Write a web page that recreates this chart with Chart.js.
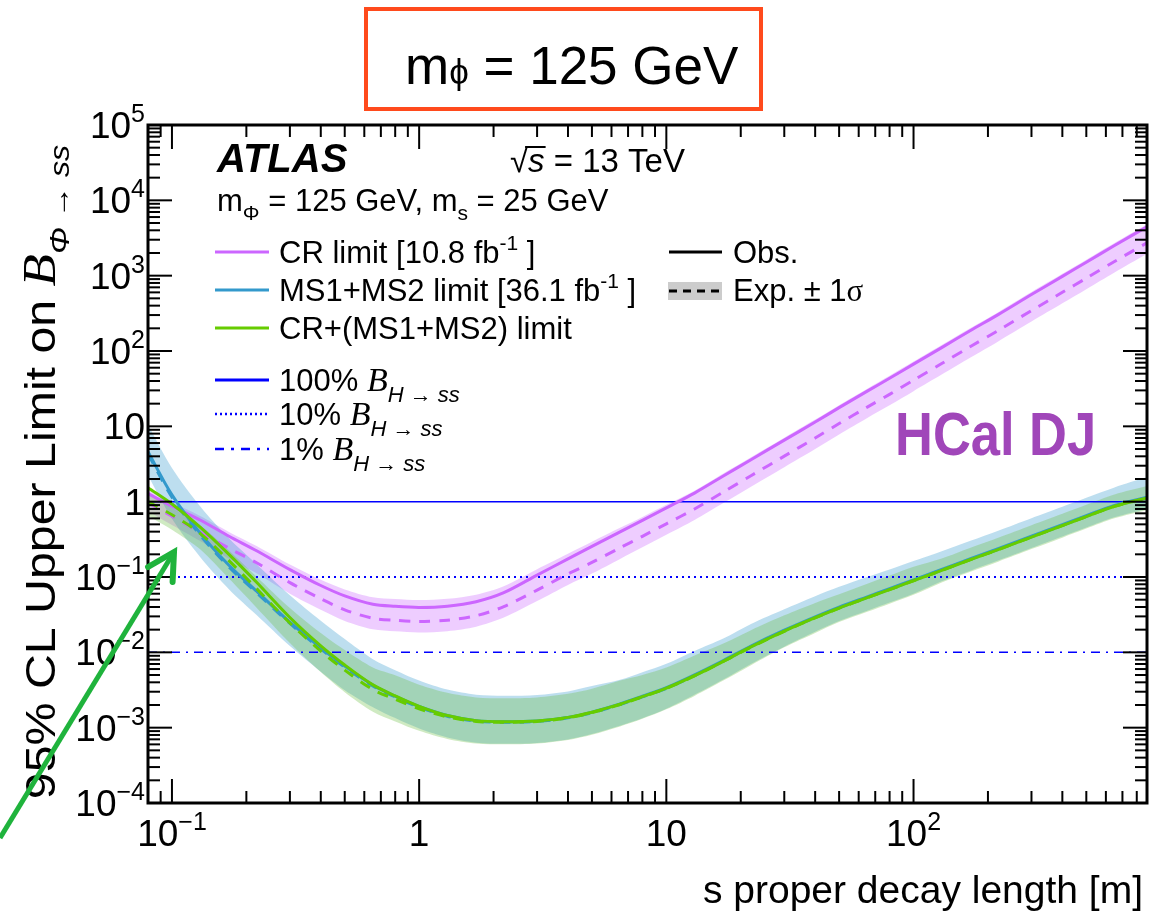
<!DOCTYPE html>
<html>
<head>
<meta charset="utf-8">
<script src="https://cdn.jsdelivr.net/npm/chart.js@4.4.1/dist/chart.umd.min.js"></script>
<style>
html,body{margin:0;padding:0;background:#fff;}
#wrap{width:1151px;height:917px;}
</style>
</head>
<body>
<div id="wrap"><canvas id="c" width="1151" height="917"></canvas></div>
<script>
// Zerfallslaenge [m]
const xWerte = [0.08, 0.1, 0.13, 0.17, 0.22, 0.3, 0.4, 0.5, 0.65, 0.8, 1, 1.3, 1.7, 2.2, 3, 4, 5, 6.5, 8, 10, 13, 17, 22, 30, 40, 50, 65, 80, 100, 130, 170, 220, 300, 400, 500, 650, 880];

// CR limit
const crObs = [1.28, 0.871, 0.571, 0.348, 0.223, 0.1255, 0.0771, 0.0561, 0.0434, 0.0408, 0.0395, 0.0410, 0.0470, 0.0619, 0.106, 0.174, 0.255, 0.397, 0.565, 0.828, 1.30, 2.19, 3.61, 6.56, 11.4, 17.7, 29.3, 43.4, 66.9, 111, 187, 304, 561, 979, 1510, 2512, 4446];
const crExp = [0.97, 0.641, 0.396, 0.241, 0.1545, 0.0843, 0.0514, 0.0366, 0.0283, 0.0266, 0.0257, 0.0267, 0.0306, 0.0404, 0.067, 0.110, 0.156, 0.244, 0.347, 0.508, 0.798, 1.34, 2.21, 4.02, 6.99, 10.9, 18.0, 26.6, 41.0, 68.1, 115, 187, 344, 601, 926, 1541, 2728];
const crHoch = [1.43, 0.98, 0.645, 0.397, 0.257, 0.146, 0.0918, 0.0685, 0.0538, 0.051, 0.0494, 0.0513, 0.0583, 0.0755, 0.127, 0.203, 0.293, 0.449, 0.627, 0.911, 1.40, 2.37, 3.90, 7.08, 12.3, 19.1, 31.6, 46.9, 72.3, 120, 202, 328, 606, 1057, 1631, 2713, 4802];
const crTief = [0.746, 0.49, 0.30, 0.175, 0.112, 0.060, 0.0367, 0.0261, 0.0202, 0.019, 0.0184, 0.0191, 0.0219, 0.0289, 0.0479, 0.0786, 0.111, 0.174, 0.248, 0.363, 0.570, 0.957, 1.58, 2.87, 4.99, 7.79, 12.9, 19.0, 29.3, 48.6, 82, 134, 246, 429, 661, 1101, 1949];

// MS1+MS2 limit
const msObs = [4.61, 1.23, 0.382, 0.143, 0.0648, 0.0251, 0.0115, 0.00656, 0.00367, 0.00262, 0.00191, 0.00145, 0.00124, 0.0012, 0.00123, 0.00137, 0.00161, 0.00207, 0.00261, 0.00339, 0.00502, 0.00778, 0.01213, 0.01965, 0.0296, 0.0398, 0.0546, 0.0700, 0.0918, 0.126, 0.175, 0.238, 0.349, 0.495, 0.652, 0.893, 1.15];
const msExp = [4.3, 1.15, 0.36, 0.136, 0.062, 0.0242, 0.0111, 0.00635, 0.00357, 0.00256, 0.00187, 0.00142, 0.00122, 0.00118, 0.00121, 0.00135, 0.00158, 0.00203, 0.00256, 0.00332, 0.00492, 0.00762, 0.0119, 0.0193, 0.029, 0.039, 0.0535, 0.0686, 0.090, 0.1235, 0.1715, 0.233, 0.342, 0.485, 0.639, 0.875, 1.13];
const msHoch = [10.5, 2.80, 0.871, 0.326, 0.148, 0.0572, 0.0262, 0.0150, 0.00811, 0.00579, 0.00422, 0.0032, 0.00274, 0.00265, 0.00272, 0.00303, 0.00356, 0.00431, 0.00543, 0.00705, 0.01044, 0.01525, 0.0238, 0.0373, 0.0556, 0.074, 0.0999, 0.126, 0.163, 0.2205, 0.303, 0.412, 0.604, 0.856, 1.128, 1.545, 2.12];
const msTief = [2.22, 0.591, 0.184, 0.0688, 0.0312, 0.0121, 0.00553, 0.00315, 0.00187, 0.00134, 0.000974, 0.00074, 0.000633, 0.000612, 0.000628, 0.000699, 0.000821, 0.00106, 0.00133, 0.00178, 0.00273, 0.00435, 0.00701, 0.0119, 0.0187, 0.026, 0.0357, 0.0458, 0.06, 0.0875, 0.1215, 0.165, 0.242, 0.344, 0.453, 0.62, 0.80];

// CR+(MS1+MS2) limit
const kombObs = [1.53, 0.93, 0.46, 0.20, 0.085, 0.0290, 0.0122, 0.0068, 0.0037, 0.00264, 0.00192, 0.00145, 0.00124, 0.0012, 0.00123, 0.00137, 0.0016, 0.00205, 0.00258, 0.00334, 0.00490, 0.00760, 0.0118, 0.0191, 0.0288, 0.0387, 0.0531, 0.0681, 0.0893, 0.1225, 0.170, 0.231, 0.339, 0.481, 0.634, 0.868, 1.12];
const kombExp = [1.0, 0.67, 0.38, 0.165, 0.070, 0.0245, 0.0104, 0.0058, 0.0032, 0.00238, 0.00178, 0.00139, 0.00121, 0.00118, 0.00121, 0.00135, 0.00158, 0.00203, 0.00256, 0.00332, 0.00487, 0.00755, 0.0117, 0.0190, 0.0287, 0.0386, 0.053, 0.068, 0.0892, 0.1223, 0.1698, 0.2307, 0.3386, 0.4805, 0.6332, 0.867, 1.12];
const kombHoch = [1.28, 0.83, 0.485, 0.224, 0.101, 0.0388, 0.0180, 0.0107, 0.00628, 0.00496, 0.00371, 0.0029, 0.00252, 0.00246, 0.00252, 0.00281, 0.00329, 0.00423, 0.00502, 0.00631, 0.00911, 0.0131, 0.0197, 0.031, 0.0453, 0.0592, 0.0813, 0.1043, 0.1368, 0.176, 0.2445, 0.332, 0.4876, 0.692, 0.912, 1.248, 1.613];
const kombTief = [0.652, 0.424, 0.233, 0.0953, 0.0392, 0.0133, 0.00547, 0.00296, 0.00163, 0.00121, 0.000908, 0.000709, 0.000617, 0.000602, 0.000617, 0.000688, 0.000806, 0.00104, 0.00131, 0.00175, 0.00264, 0.00422, 0.00676, 0.01166, 0.0181, 0.0252, 0.0345, 0.0443, 0.0581, 0.0848, 0.1177, 0.1599, 0.2347, 0.333, 0.4388, 0.601, 0.776];

// B(H->ss) Referenzlinien
const bLinien = [1, 0.1, 0.01];

// Achsen
const xMin = 0.08, xMax = 880;
const yMin = 1e-4, yMax = 1e5;
const xBeschriftung = [[0.1, '10', '\u22121'], [1, '1', ''], [10, '10', ''], [100, '10', '2']];
const yBeschriftung = [[1e5, '10', '5'], [1e4, '10', '4'], [1e3, '10', '3'], [1e2, '10', '2'], [10, '10', ''], [1, '1', ''], [0.1, '10', '\u22121'], [0.01, '10', '\u22122'], [1e-3, '10', '\u22123'], [1e-4, '10', '\u22124']];

const LS = '"Liberation Sans", Arial, sans-serif';
const SERIF = '"Liberation Serif", "Times New Roman", serif';

const VIOLETT = '#cc66ff';
const BLAU = '#3399cc';
const GRUEN = '#66cc00';

function punkte(werte) {
    return xWerte.map((x, i) => ({x: x, y: werte[i]}));
}

function linie(werte, farbe, strich, reihenfolge) {
    return {
        data: punkte(werte),
        borderColor: farbe,
        borderWidth: 3,
        borderDash: strich,
        fill: false,
        order: reihenfolge,
        tension: 0.3,
    };
}

function band(werte, farbe, ziel, reihenfolge) {
    return {
        data: punkte(werte),
        borderWidth: 0,
        borderColor: 'rgba(0,0,0,0)',
        backgroundColor: farbe,
        fill: ziel,
        order: reihenfolge,
        tension: 0.3,
    };
}

function horizontal(y, strich, breite, reihenfolge) {
    return {
        data: [{x: xMin, y: y}, {x: xMax, y: y}],
        borderColor: '#0000ff',
        borderWidth: breite,
        borderDash: strich,
        fill: false,
        order: reihenfolge,
    };
}

const datensaetze = [
    band(crHoch, 'rgba(204,102,255,0.33)', '+1', 20),
    band(crTief, 'rgba(0,0,0,0)', false, 20),
    band(msHoch, 'rgba(51,153,204,0.32)', '+1', 19),
    band(msTief, 'rgba(0,0,0,0)', false, 19),
    band(kombHoch, 'rgba(110,190,70,0.33)', '+1', 18),
    band(kombTief, 'rgba(0,0,0,0)', false, 18),
    horizontal(bLinien[0], [], 1.5, 10),
    horizontal(bLinien[1], [2, 4], 2, 10),
    horizontal(bLinien[2], [9, 6, 2, 6], 1.5, 10),
    linie(crExp, VIOLETT, [11, 9], 6),
    linie(crObs, VIOLETT, [], 5),
    linie(msExp, BLAU, [11, 9], 4),
    linie(msObs, BLAU, [], 3),
    linie(kombExp, GRUEN, [11, 9], 2),
    linie(kombObs, GRUEN, [], 1),
];

// Text mit wechselnden Schriften
function richBreite(ctx, teile) {
    let w = 0;
    for (const t of teile) {
        ctx.font = t.f;
        w += ctx.measureText(t.t).width;
    }
    return w;
}

function richText(ctx, x, y, teile, ausrichtung) {
    const w = richBreite(ctx, teile);
    if (ausrichtung === 'right') x -= w;
    else if (ausrichtung === 'center') x -= w / 2;
    for (const t of teile) {
        ctx.font = t.f;
        ctx.fillStyle = t.c || '#000';
        ctx.fillText(t.t, x, y + (t.dy || 0));
        x += ctx.measureText(t.t).width;
    }
}

function strecke(ctx, x1, y1, x2, y2, farbe, breite, strich) {
    ctx.save();
    ctx.strokeStyle = farbe;
    ctx.lineWidth = breite;
    ctx.setLineDash(strich || []);
    ctx.beginPath();
    ctx.moveTo(x1, y1);
    ctx.lineTo(x2, y2);
    ctx.stroke();
    ctx.restore();
}

const dekoPlugin = {
    id: 'deko',
    afterDatasetsDraw(chart) {
        const ctx = chart.ctx;
        const xs = chart.scales.x;
        const ys = chart.scales.y;
        const a = chart.chartArea;
        ctx.save();
        ctx.textBaseline = 'alphabetic';

        // Rahmen
        ctx.strokeStyle = '#000';
        ctx.lineWidth = 3;
        ctx.strokeRect(a.left, a.top, a.right - a.left, a.bottom - a.top);

        // Teilstriche innen, alle vier Seiten
        for (let e = -2; e <= 3; e++) {
            for (let m = 1; m <= 9; m++) {
                const v = m * Math.pow(10, e);
                if (v < xMin || v > xMax) continue;
                const px = xs.getPixelForValue(v);
                const l = m === 1 ? 24 : 12;
                strecke(ctx, px, a.bottom, px, a.bottom - l, '#000', 2);
                strecke(ctx, px, a.top, px, a.top + l, '#000', 2);
            }
        }
        for (let e = -4; e <= 5; e++) {
            for (let m = 1; m <= 9; m++) {
                const v = m * Math.pow(10, e);
                if (v < yMin || v > yMax) continue;
                const py = ys.getPixelForValue(v);
                const l = m === 1 ? 24 : 12;
                strecke(ctx, a.left, py, a.left + l, py, '#000', 2);
                strecke(ctx, a.right, py, a.right - l, py, '#000', 2);
            }
        }

        // Achsenbeschriftung
        for (const [v, basis, hoch] of xBeschriftung) {
            const px = xs.getPixelForValue(v);
            richText(ctx, px, a.bottom + 43, [
                {t: basis, f: '37px ' + LS},
                {t: hoch, f: '25px ' + LS, dy: -16},
            ], 'center');
        }
        for (const [v, basis, hoch] of yBeschriftung) {
            const py = ys.getPixelForValue(v);
            richText(ctx, a.left - 3, py + 13, [
                {t: basis, f: '37px ' + LS},
                {t: hoch, f: '25px ' + LS, dy: -16},
            ], 'right');
        }

        // Achsentitel
        richText(ctx, 1143, 903, [{t: 's proper decay length [m]', f: '39px ' + LS}], 'right');
        ctx.save();
        ctx.translate(55, 472);
        ctx.rotate(-Math.PI / 2);
        ctx.scale(1.15, 1);
        richText(ctx, 0, 0, [
            {t: '95% CL Upper Limit on ', f: '42px ' + LS},
            {t: 'B', f: 'italic 46px ' + SERIF},
            {t: '\u03A6 \u2192 ss', f: 'italic 28px ' + LS, dy: 14},
        ], 'center');
        ctx.restore();

        // ATLAS Kopf
        richText(ctx, 217, 172, [{t: 'ATLAS', f: 'bold italic 40px ' + LS}]);
        ctx.font = '33px ' + LS;
        const wurzelB = ctx.measureText('\u221A').width;
        ctx.font = 'italic 33px ' + LS;
        const sB = ctx.measureText('s').width;
        richText(ctx, 510, 172, [
            {t: '\u221A', f: '33px ' + LS},
            {t: 's', f: 'italic 33px ' + LS},
            {t: ' = 13 TeV', f: '33px ' + LS},
        ]);
        strecke(ctx, 510 + wurzelB - 3, 147, 510 + wurzelB + sB + 1, 147, '#000', 2);

        richText(ctx, 217, 211, [
            {t: 'm', f: '31px ' + LS},
            {t: '\u03A6', f: '21px ' + LS, dy: 9},
            {t: ' = 125 GeV, m', f: '31px ' + LS},
            {t: 's', f: '21px ' + LS, dy: 9},
            {t: ' = 25 GeV', f: '31px ' + LS},
        ]);

        // Legende
        const lx1 = 215, lx2 = 269, tx = 279;
        const LF = '31px ' + LS, HF = '21px ' + LS;
        strecke(ctx, lx1, 252, lx2, 252, VIOLETT, 3);
        richText(ctx, tx, 263, [
            {t: 'CR limit [10.8 fb', f: LF},
            {t: '-1', f: HF, dy: -13},
            {t: ' ]', f: LF},
        ]);
        strecke(ctx, lx1, 290, lx2, 290, BLAU, 3);
        richText(ctx, tx, 301, [
            {t: 'MS1+MS2 limit [36.1 fb', f: LF},
            {t: '-1', f: HF, dy: -13},
            {t: ' ]', f: LF},
        ]);
        strecke(ctx, lx1, 328, lx2, 328, GRUEN, 3);
        richText(ctx, tx, 339, [{t: 'CR+(MS1+MS2) limit', f: LF}]);

        const bTeile = (p) => [
            {t: p + ' ', f: LF},
            {t: 'B', f: 'italic 34px ' + SERIF},
            {t: 'H \u2192 ss', f: 'italic 22px ' + LS, dy: 11},
        ];
        strecke(ctx, lx1, 380, lx2, 380, '#0000ff', 3);
        richText(ctx, tx, 391, bTeile('100%'));
        strecke(ctx, lx1, 414, lx2, 414, '#0000ff', 2.5, [2, 3]);
        richText(ctx, tx, 425, bTeile('10%'));
        strecke(ctx, lx1, 449, lx2, 449, '#0000ff', 2.5, [9, 7, 3, 7]);
        richText(ctx, tx, 460, bTeile('1%'));

        strecke(ctx, 669, 252, 722, 252, '#000', 3);
        richText(ctx, 733, 263, [{t: 'Obs.', f: LF}]);
        ctx.fillStyle = '#cccccc';
        ctx.fillRect(668, 282, 54, 18);
        strecke(ctx, 669, 291, 722, 291, '#000', 3, [8, 6]);
        richText(ctx, 733, 301, [
            {t: 'Exp. \u00B1 1', f: LF},
            {t: '\u03C3', f: '31px ' + SERIF},
        ]);

        // HCal DJ, etwas schmaler gesetzt
        ctx.save();
        ctx.translate(895, 455);
        ctx.scale(0.86, 1);
        richText(ctx, 0, 0, [{t: 'HCal DJ', f: 'bold 61px ' + LS, c: '#a046b9'}]);
        ctx.restore();

        // Kasten oben
        ctx.strokeStyle = '#ff4a1c';
        ctx.lineWidth = 4;
        ctx.strokeRect(366, 9, 395, 100);
        richText(ctx, 405, 84, [
            {t: 'm', f: '53px ' + LS},
            {t: '\u03D5', f: '35px ' + LS},
            {t: ' = 125 GeV', f: '53px ' + LS},
        ]);

        // gruener Pfeil
        const sx = 0, sy = 838, zx = 174, zy = 552;
        strecke(ctx, sx, sy, zx, zy, '#1fb33c', 5);
        const w = Math.atan2(sy - zy, sx - zx);
        const lk = 30;
        ctx.strokeStyle = '#1fb33c';
        ctx.lineWidth = 6;
        ctx.lineCap = 'round';
        ctx.beginPath();
        ctx.moveTo(zx + lk * Math.cos(w + 0.5), zy + lk * Math.sin(w + 0.5));
        ctx.lineTo(zx, zy);
        ctx.lineTo(zx + lk * Math.cos(w - 0.5), zy + lk * Math.sin(w - 0.5));
        ctx.stroke();

        ctx.restore();
    }
};

new Chart(document.getElementById('c'), {
    type: 'line',
    data: {datasets: datensaetze},
    options: {
        responsive: false,
        animation: false,
        layout: {padding: {left: 148, top: 125, right: 4, bottom: 114}},
        elements: {point: {radius: 0}},
        scales: {
            x: {type: 'logarithmic', min: xMin, max: xMax, display: false},
            y: {type: 'logarithmic', min: yMin, max: yMax, display: false},
        },
        plugins: {
            legend: {display: false},
            tooltip: {enabled: false},
        },
    },
    plugins: [dekoPlugin],
});
</script>
</body>
</html>
